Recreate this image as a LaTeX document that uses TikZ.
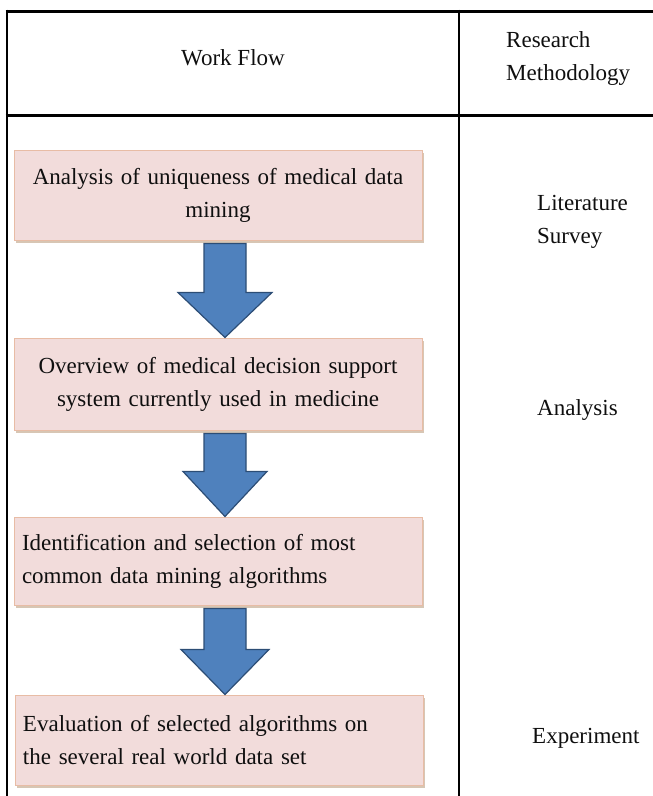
\documentclass[tikz,border=0pt]{standalone}
\usepackage{fontspec}
\setmainfont{Liberation Serif}
\usetikzlibrary{calc,shadows}

\definecolor{boxfill}{RGB}{242,220,219}
\definecolor{boxline}{RGB}{232,188,165}
\definecolor{arrowfill}{RGB}{79,129,189}
\definecolor{arrowline}{RGB}{44,77,117}
\definecolor{textgray}{RGB}{15,15,15}

\tikzset{
  frame/.style={line width=3pt,black},
  stepbox/.style={draw=boxline,fill=boxfill,line width=1pt,minimum width=408pt,
    minimum height=90pt,text width=392pt,inner sep=8pt,text=textgray,
    drop shadow={shadow xshift=1.5pt,shadow yshift=-2.5pt,opacity=.45,fill=brown!60!gray}},
  label/.style={text=textgray,align=left,inner sep=0pt},
  bigarrow/.style={draw=arrowline,fill=arrowfill,line width=1.2pt,line join=miter}
}

% block arrow from the bottom of one box to the top of the next
% #3 = half width of the head
\newcommand{\flowarrow}[3]{%
  \draw[bigarrow] let \p1=(#1.south), \p2=(#2.north) in
    (\x1-14pt,\y1-3pt) -- (\x1+28pt,\y1-3pt) -- (\x1+28pt,\y2+45pt)
    -- (\x1+7pt+#3,\y2+45pt) -- (\x1+7pt,\y2) -- (\x1+7pt-#3,\y2+45pt)
    -- (\x1-14pt,\y2+45pt) -- cycle;}

\begin{document}
\begin{tikzpicture}[x=1pt,y=-1pt,font=\fontsize{23}{33}\selectfont]
  \useasboundingbox (0,0) rectangle (653,796);
  % table frame
  \draw[frame] (5.5,11)--(653,11);
  \draw[frame] (5.5,115)--(653,115);
  \draw[line width=2.5pt] (7,9.5)--(7,796);
  \draw[line width=2.2pt] (459,9.5)--(459,796);
  % header
  \node[label] (flowhead) at (233,58) {Work Flow};
  \node[label,anchor=west] (methhead) at (506,58) {Research\\Methodology};
  % work flow boxes
  \node[stepbox,align=center] (b1) at (218,195) {Analysis of uniqueness of medical data\\mining};
  \node[stepbox,align=center,minimum height=92pt] (b2) at (218,384) {Overview of medical decision support\\system currently used in medicine};
  \node[stepbox,align=left,minimum height=88pt] (b3) at (218,561) {Identification and selection of most\\common data mining algorithms};
  \node[stepbox,align=left] (b4) at (219,740) {Evaluation of selected algorithms on\\the several real world data set};
  \flowarrow{b1}{b2}{47pt}
  \flowarrow{b2}{b3}{42pt}
  \flowarrow{b3}{b4}{44pt}
  % methodology
  \node[label,anchor=west] (survey) at (537,222) {Literature\\Survey};
  \node[label,anchor=west] (analysis) at (537,410) {Analysis};
  \node[label,anchor=west] (experiment) at (532,738) {Experiment};
\end{tikzpicture}
\end{document}
